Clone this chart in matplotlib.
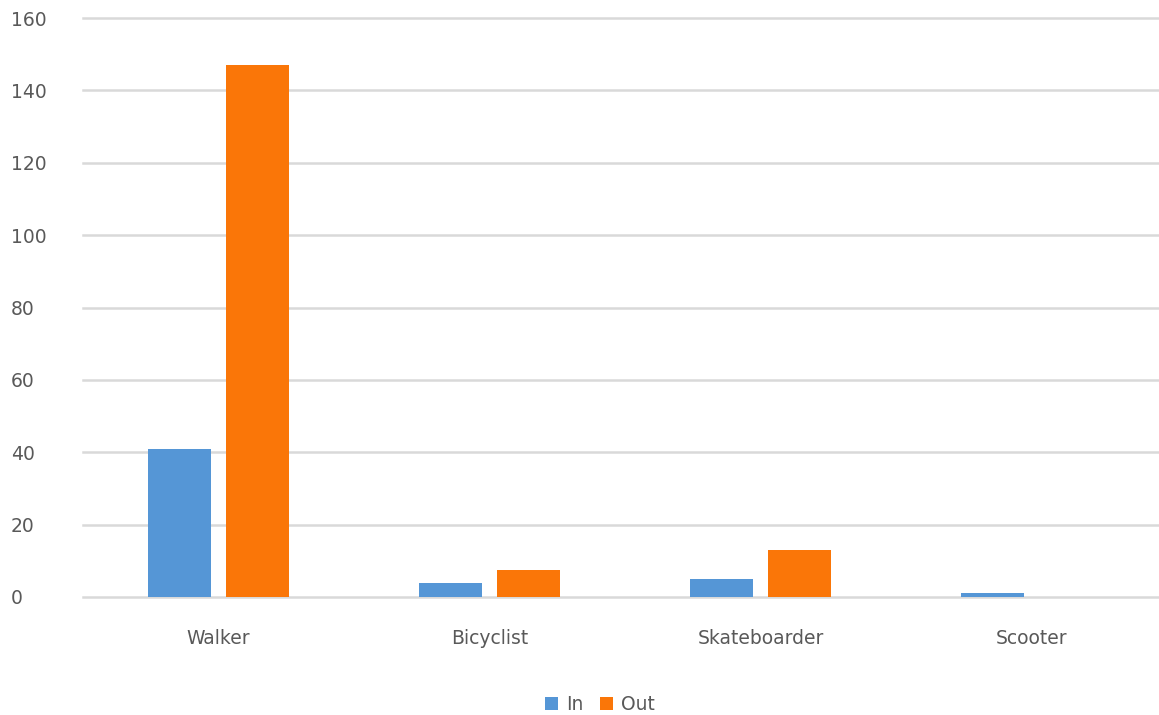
import numpy as np
from matplotlib import pyplot as plt

categories = ['Walker', 'Bicyclist', 'Skateboarder', 'Scooter']
in_values = [41, 4, 5, 1]
out_values = [147, 7.5, 13, 0]
y_ticks = [0, 20, 40, 60, 80, 100, 120, 140, 160]

blue = '#5596D6'
orange = '#FA7608'
text_color = '#595959'

fig = plt.figure(figsize=(11.59, 7.15), dpi=100)
ax = fig.add_axes([83 / 1159, 118 / 715, 1084 / 1159, 579 / 715])

x = np.arange(len(categories))
width = 0.232
ax.bar(x - 0.145, in_values, width, color=blue, label='In', zorder=3)
ax.bar(x + 0.145, out_values, width, color=orange, label='Out', zorder=3)

ax.set_xlim(-0.5, 3.5)
ax.set_ylim(0, 160)
ax.set_yticks(y_ticks)
ax.set_xticks(x)
ax.set_xticklabels(categories)
ax.grid(axis='y', color='#D9D9D9', linewidth=1.8, zorder=0)
for line in ax.get_ygridlines():
    line.set_clip_on(False)
ax.set_axisbelow(True)
for side in ['top', 'right', 'left', 'bottom']:
    ax.spines[side].set_visible(False)
ax.tick_params(axis='both', length=0, labelsize=13.5, colors=text_color)
ax.tick_params(axis='x', pad=23)
ax.tick_params(axis='y', pad=52)
for lbl in ax.get_yticklabels():
    lbl.set_horizontalalignment('left')

fig.legend(loc='lower center', bbox_to_anchor=(600 / 1159, -0.022), ncol=2,
           frameon=False, fontsize=13.5, handlelength=0.7, handleheight=0.7,
           handletextpad=0.4, columnspacing=0.9, labelcolor=text_color)

fig.savefig('out.png', dpi=100)
